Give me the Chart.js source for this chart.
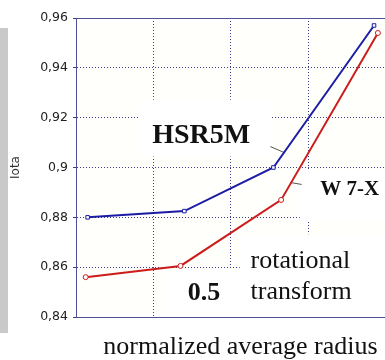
<!DOCTYPE html>
<html>
<head>
<meta charset="utf-8">
<script src="https://cdn.jsdelivr.net/npm/chart.js@4/dist/chart.umd.min.js"></script>
<style>
  html, body { margin: 0; padding: 0; background: #fff; overflow: hidden; }
  #wrap { width: 385px; height: 360px; overflow: hidden; }
</style>
</head>
<body>
<div id="wrap"><canvas id="iotaChart" width="410" height="360"></canvas></div>
<script>
// rotational transform vs. normalized average radius
const hsrX  = [0.03, 0.28, 0.51, 0.77];
const hsrY  = [0.880, 0.8825, 0.900, 0.957];
const w7xX  = [0.025, 0.27, 0.53, 0.78];
const w7xY  = [0.856, 0.8605, 0.887, 0.954];

const yTicks  = [0.84, 0.86, 0.88, 0.90, 0.92, 0.94, 0.96];
const yLabels = ['0,84', '0,86', '0,88', '0,9', '0,92', '0,94', '0,96'];
const xTicks  = [0.2, 0.4, 0.6];

const axisColor = '#50509a';
const gridColor = '#3c3c8c';

// white label boxes [x0, x1, yTop, yBottom] in data units
const boxes = [
  [0.163, 0.502, 0.9272, 0.9044],
  [0.578, 0.85, 0.8992, 0.8784],
  [0.423, 0.85, 0.8732, 0.84],
  [0.24, 0.423, 0.8592, 0.84]
];
// leader lines [x0, y0, x1, y1]
const leaders = [
  [0.502, 0.9084, 0.538, 0.906],
  [0.553, 0.894, 0.583, 0.8932]
];
// text notes: text, x, y, align, font
const notes = [
  ['HSR5M', 0.3236, 0.9128, 'center', 'bold 28px "Liberation Serif"'],
  ['W 7-X', 0.707, 0.8910, 'center', 'bold 21px "Liberation Serif"'],
  ['rotational', 0.451, 0.8624, 'left', '26px "Liberation Serif"'],
  ['transform', 0.451, 0.8500, 'left', '26px "Liberation Serif"'],
  ['0.5', 0.331, 0.8496, 'center', 'bold 26px "Liberation Serif"']
];

const decor = {
  id: 'decor',
  beforeDraw(chart) {
    const { ctx, chartArea: a } = chart;
    ctx.save();
    ctx.fillStyle = '#c9c9c9';
    ctx.fillRect(0, 28, 8, 305);
    ctx.fillStyle = '#fffffb';
    ctx.fillRect(a.left, a.top, a.right - a.left, a.bottom - a.top);
    ctx.restore();
  },
  beforeDatasetsDraw(chart) {
    const { ctx, chartArea: a, scales: { x, y } } = chart;
    ctx.save();
    ctx.fillStyle = '#ffffff';
    boxes.forEach(b => {
      const l = x.getPixelForValue(b[0]), r = x.getPixelForValue(b[1]);
      const t = y.getPixelForValue(b[2]);
      const btm = Math.min(y.getPixelForValue(b[3]), a.bottom - 1);
      ctx.fillRect(l, t, r - l, btm - t);
    });
    // top frame line
    ctx.strokeStyle = axisColor;
    ctx.lineWidth = 1;
    ctx.beginPath();
    ctx.moveTo(a.left, a.top + 0.5);
    ctx.lineTo(a.right, a.top + 0.5);
    ctx.stroke();
    // leaders
    ctx.strokeStyle = '#555';
    leaders.forEach(l => {
      ctx.beginPath();
      ctx.moveTo(x.getPixelForValue(l[0]), y.getPixelForValue(l[1]));
      ctx.lineTo(x.getPixelForValue(l[2]), y.getPixelForValue(l[3]));
      ctx.stroke();
    });
    ctx.fillStyle = '#111';
    ctx.textBaseline = 'middle';
    notes.forEach(n => {
      ctx.font = n[4];
      ctx.textAlign = n[3];
      ctx.fillText(n[0], x.getPixelForValue(n[1]), y.getPixelForValue(n[2]));
    });
    ctx.restore();
  }
};

new Chart(document.getElementById('iotaChart'), {
  type: 'scatter',
  data: {
    datasets: [{
      label: 'HSR5M',
      data: hsrX.map((v, i) => ({ x: v, y: hsrY[i] })),
      showLine: true,
      borderColor: '#1c1ca6',
      borderWidth: 2,
      pointStyle: 'rect',
      pointRadius: 2.5,
      pointBorderWidth: 1,
      pointBackgroundColor: '#fff',
      pointBorderColor: '#1c1ca6'
    }, {
      label: 'W 7-X',
      data: w7xX.map((v, i) => ({ x: v, y: w7xY[i] })),
      showLine: true,
      borderColor: '#cc1c1c',
      borderWidth: 2,
      pointStyle: 'circle',
      pointRadius: 2.5,
      pointBorderWidth: 1,
      pointBackgroundColor: '#fff',
      pointBorderColor: '#cc1c1c'
    }]
  },
  options: {
    responsive: false,
    animation: false,
    layout: { padding: { top: 18, left: 0, right: 0, bottom: 0 } },
    plugins: { legend: { display: false }, tooltip: { enabled: false } },
    scales: {
      x: {
        type: 'linear',
        min: 0,
        max: 0.85,
        afterBuildTicks: s => { s.ticks = xTicks.map(v => ({ value: v })); },
        afterFit: s => { s.height = 43; },
        ticks: { display: false },
        grid: { color: gridColor, lineWidth: 1, drawTicks: false },
        border: { color: axisColor, width: 1, dash: [1, 2] },
        title: {
          display: true,
          text: 'normalized average radius',
          color: '#111',
          font: { family: 'Liberation Serif', size: 26, lineHeight: 0.95 },
          padding: 0
        }
      },
      y: {
        min: 0.84,
        max: 0.96,
        afterBuildTicks: s => { s.ticks = yTicks.map(v => ({ value: v })); },
        afterFit: s => { s.width = 76; },
        ticks: {
          padding: 5,
          color: '#222',
          font: { family: 'DejaVu Sans', size: 12.5 },
          callback: (v, i) => yLabels[i]
        },
        grid: {
          color: c => (c.tick && (c.tick.value === 0.96 || c.tick.value === 0.84)) ? 'rgba(0,0,0,0)' : gridColor,
          tickColor: gridColor,
          tickLength: 3,
          lineWidth: 1
        },
        border: { color: axisColor, width: 1, dash: [1, 2] },
        title: {
          display: true,
          text: 'Iota',
          color: '#333',
          font: { family: 'DejaVu Sans', size: 12 },
          padding: { top: 9, bottom: 0 }
        }
      }
    }
  },
  plugins: [decor]
});
</script>
</body>
</html>
